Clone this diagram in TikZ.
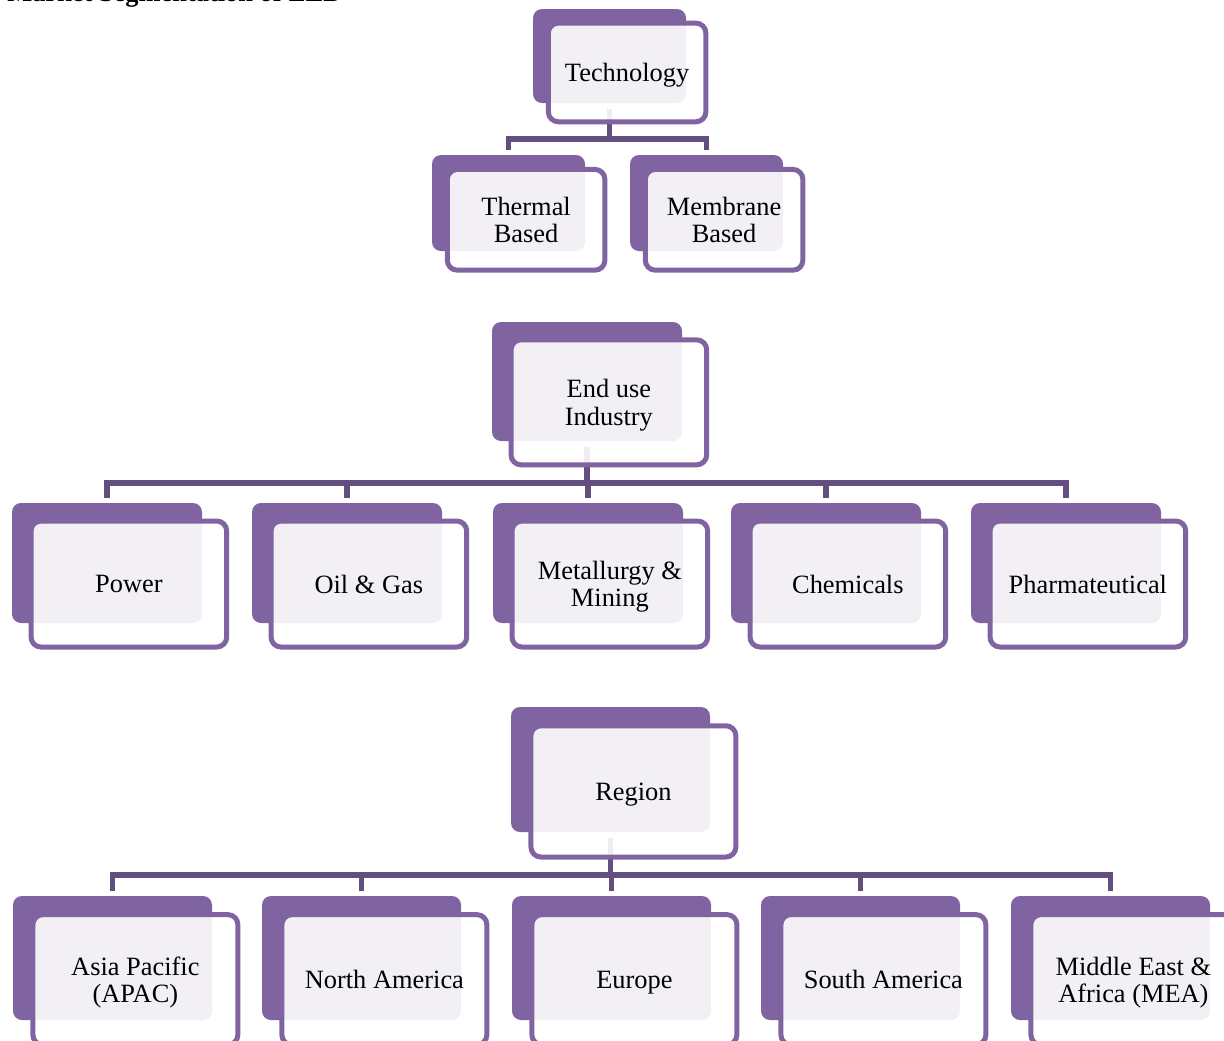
\documentclass[tikz,border=0pt]{standalone}
\usepackage{fontspec}
\setmainfont{Liberation Serif}
\usetikzlibrary{calc,backgrounds}

\definecolor{segpurple}{HTML}{8064A2}
\definecolor{segline}{HTML}{634E80}

\newcommand\segfont{\fontsize{13.2}{13.8}\selectfont}

\tikzset{
  backbox/.style={fill=segpurple, rounded corners=4.5pt, inner sep=0pt, outer sep=0pt},
  framebox/.style={draw=segpurple, line width=2.5pt, fill=white, fill opacity=0.9,
    draw opacity=1, rounded corners=5pt, inner sep=0pt, outer sep=0pt},
  cardtext/.style={align=center, font=\segfont, inner sep=0pt, text depth=0pt},
  conn/.style={draw=segline, line width=2.7pt, line join=miter},
}

% #1 name, #2 left, #3 top, #4 width, #5 height (px), #6 label
% draws the solid back tab, the translucent framed card in front of it, and its label
\newcommand\segitem[6]{%
  \node[backbox, minimum width=#4*0.5pt, minimum height=#5*0.5pt]
    (#1) at ({#2+#4/2},{#3+#5/2}) {};
  \node[framebox, minimum width=1.03*#4*0.5pt, minimum height=1.05*#5*0.5pt]
    (#1F) at ({#2+0.615*#4},{#3+0.675*#5}) {};
  \node[cardtext] (#1T) at (#1F.center) {#6};
}

\begin{document}
\begin{tikzpicture}[x=0.5pt, y=-0.5pt]
\useasboundingbox (0,0) rectangle (1224,1040);

\node[anchor=base west, font=\segfont\bfseries, inner sep=0pt] (title) at (7,1.5)
  {Market Segmentation of ZLD};

% Technology
\segitem{tech}{533}{9}{153}{94}{Technology}
\segitem{therm}{432}{155}{153}{96}{Thermal\\Based}
\segitem{memb}{630}{155}{153}{96}{Membrane\\Based}

% End use industry
\segitem{enduse}{492}{322}{190}{119}{End use\\Industry}
\segitem{power}{12}{503}{190}{120}{Power}
\segitem{oilgas}{252}{503}{190}{120}{Oil \& Gas}
\segitem{metal}{493}{503}{190}{120}{Metallurgy \&\\Mining}
\segitem{chem}{731}{503}{190}{120}{Chemicals}
\segitem{pharma}{971}{503}{190}{120}{Pharmateutical}

% Region
\segitem{region}{511}{707}{199}{125}{Region}
\segitem{apac}{13}{896}{199}{124}{Asia Pacific\\(APAC)}
\segitem{nam}{262}{896}{199}{124}{North America}
\segitem{eur}{512}{896}{199}{124}{Europe}
\segitem{sam}{761}{896}{199}{124}{South America}
\segitem{mea}{1011}{896}{199}{124}{Middle East \&\\Africa (MEA)}

% tree connectors, kept behind the cards
\begin{scope}[on background layer]
  \foreach \c in {therm,memb}
    \draw[conn] ($(tech.south)+(0,6)$) -- ++(0,30) -| ($(\c.north)+(0,-5)$);
  \foreach \c in {power,oilgas,metal,chem,pharma}
    \draw[conn] ($(enduse.south)+(0,6)$) -- ++(0,36) -| ($(\c.north)+(0,-5)$);
  \foreach \c in {apac,nam,eur,sam,mea}
    \draw[conn] ($(region.south)+(0,6)$) -- ++(0,37) -| ($(\c.north)+(0,-5)$);
\end{scope}
\end{tikzpicture}
\end{document}
